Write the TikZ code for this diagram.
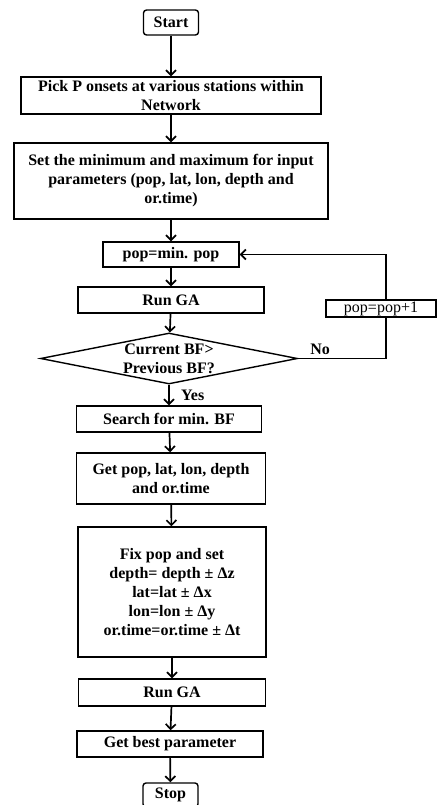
\documentclass[tikz,border=0pt]{standalone}
\usepackage{fontspec}
\setmainfont{Liberation Serif}
\usetikzlibrary{shapes.geometric,arrows.meta}

\begin{document}
\begin{tikzpicture}[x=1pt,y=-1pt,->,>={Straight Barb[length=5pt,width=10pt]},line width=1.7pt,
  box node/.style={draw,rectangle,line width=1.4pt,inner sep=2pt,align=center,font=\bfseries\fontsize{16}{19}\selectfont},
  end node/.style={box node,rounded corners=3pt},
  test node/.style={draw,diamond,aspect=5,inner sep=-6pt,line width=1.4pt,align=center,font=\bfseries\fontsize{16}{19}\selectfont}]
\useasboundingbox (0,0) rectangle (436,805);

\node[end node,minimum width=55pt,minimum height=25pt] (1) at (171,22.5) {Start};
\node[box node,minimum width=300pt,minimum height=37pt] (2) at (171,95.5) {Pick P onsets at various stations within\\Network};
\node[box node,minimum width=314pt,minimum height=76pt] (3) at (171,181) {Set the minimum and maximum for input\\parameters (pop, lat, lon, depth and\\or.time)};
\node[box node,minimum width=136pt,minimum height=25pt] (4) at (171,254.5) {pop=min. pop};
\node[box node,minimum width=186pt,minimum height=26pt] (5) at (171,300) {Run GA};
\node[test node,minimum width=257pt,minimum height=51pt] (6) at (169,358.5) {Current BF>\\Previous BF?};
\node[box node,minimum width=185pt,minimum height=26pt] (7) at (169,419) {Search for min. BF};
\node[box node,minimum width=189pt,minimum height=51pt] (8) at (171,478.5) {Get pop, lat, lon, depth\\and or.time};
\node[box node,minimum width=188pt,minimum height=130pt] (9) at (172,592) {Fix pop and set\\depth= depth ± Δz\\lat=lat ± Δx\\lon=lon ± Δy\\or.time=or.time ± Δt};
\node[box node,minimum width=187pt,minimum height=27pt] (10) at (172,692.5) {Run GA};
\node[box node,minimum width=186pt,minimum height=26pt] (11) at (170,744) {Get best parameter};
\node[end node,minimum width=55pt,minimum height=24pt] (12) at (170.5,795) {Stop};
\node[box node,font=\fontsize{16}{19}\selectfont,minimum width=110pt,minimum height=17pt,inner sep=0pt] (13) at (381,308.5) {pop=pop+1};
\coordinate (14) at (386,358.5);

\path
    (1) edge (2)
    (2) edge (3)
    (3) edge (4)
    (4) edge (5)
    (5) edge (6)
    (6) edge node[right,xshift=8pt,font=\bfseries\fontsize{16}{19}\selectfont] {Yes} (7)
    (7) edge (8)
    (8) edge (9)
    (9) edge (10)
    (10) edge (11)
    (11) edge (12)
;

% loop back when no better
\draw[-] (6.east) -- node[above,pos=0.25,font=\bfseries\fontsize{16}{19}\selectfont] {No} (14) -- (14 |- 13.south);
\draw (14 |- 13.north) |- (4.east);

\end{tikzpicture}
\end{document}
